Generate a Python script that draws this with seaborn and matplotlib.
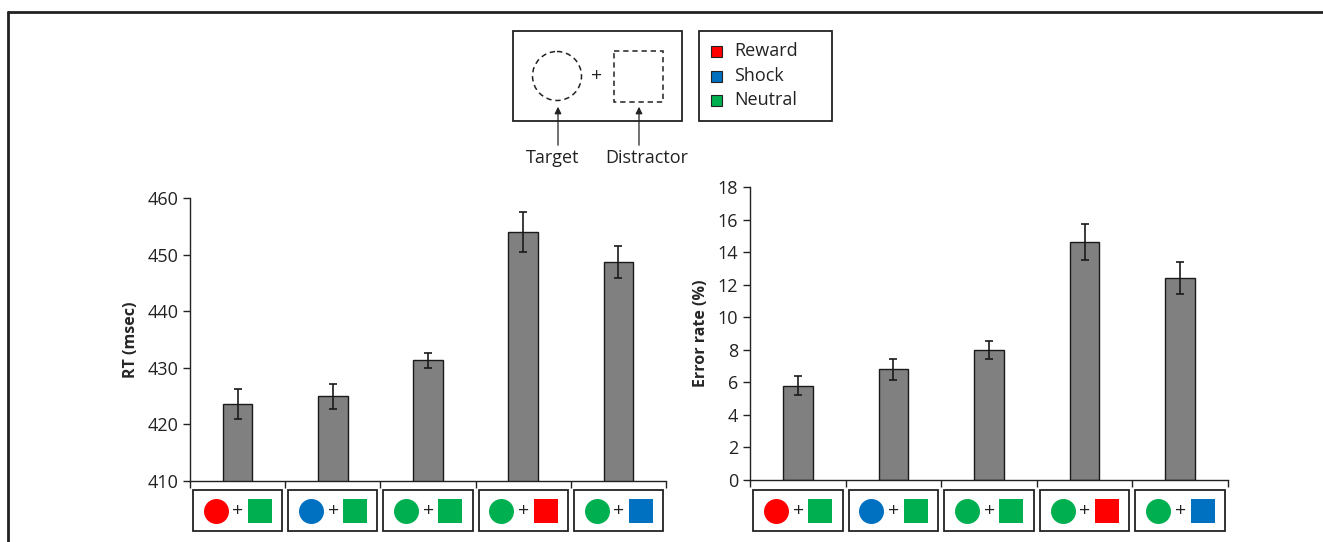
import numpy as np
import pandas as pd
import seaborn as sns
import matplotlib
import matplotlib.pyplot as plt
from matplotlib.patches import Rectangle, Circle, FancyArrowPatch
from matplotlib.transforms import blended_transform_factory

# data
conditions = ["Reward+Neutral", "Shock+Neutral", "Neutral+Neutral", "Neutral+Reward", "Neutral+Shock"]
target_col = ["red", "blue", "green", "green", "green"]
distr_col = ["green", "green", "green", "red", "blue"]
rt_mean = [423.6, 425.0, 431.3, 454.0, 448.7]
rt_sem = [2.6, 2.2, 1.3, 3.6, 2.9]
err_mean = [5.8, 6.8, 8.0, 14.6, 12.4]
err_sem = [0.6, 0.65, 0.55, 1.1, 1.0]

colors = {"red": "#FF0000", "blue": "#0070C0", "green": "#00B050"}

sns.set_theme(style="white")
plt.rcParams['font.family'] = ['Open Sans', 'DejaVu Sans']
plt.rcParams['axes.edgecolor'] = '#222222'

fig = plt.figure(figsize=(13.23, 5.42), dpi=100)
W, H = 1323, 542

# overlay in pixel coordinates (y down)
over = fig.add_axes([0, 0, 1, 1], zorder=-1)
over.set_xlim(0, W)
over.set_ylim(H, 0)
over.axis("off")


def px_axes(x0, y0, x1, y1):
    return fig.add_axes([x0 / W, 1 - y1 / H, (x1 - x0) / W, (y1 - y0) / H])


ax1 = px_axes(190, 198, 666, 481)
ax2 = px_axes(750, 187, 1228, 480)

df = pd.DataFrame({"cond": conditions, "rt": rt_mean, "err": err_mean})


def panel(ax, col, mean, sem, ylim, yticks, ylabel):
    sns.barplot(data=df, x="cond", y=col, ax=ax, color="#808080", saturation=1,
                edgecolor="#1a1a1a", linewidth=1.0, width=0.31, errorbar=None)
    ax.errorbar(np.arange(len(mean)), mean, yerr=sem, fmt="none", ecolor="#1a1a1a",
                elinewidth=1.2, capsize=3, capthick=1.2)
    ax.set_ylim(*ylim)
    ax.set_yticks(yticks)
    ax.set_xlim(-0.5, len(mean) - 0.5)
    ax.set_xticks(np.arange(len(mean) + 1) - 0.5)
    ax.set_xticklabels([])
    ax.set_xlabel("")
    ax.set_ylabel(ylabel, fontsize=11.5, fontweight="bold", labelpad=6)
    ax.tick_params(axis="both", direction="out", length=5, width=1, color="#222222",
                   labelsize=13, bottom=True, left=True, labelcolor="#222222")
    for s in ["top", "right"]:
        ax.spines[s].set_visible(False)
    for s in ["left", "bottom"]:
        ax.spines[s].set_linewidth(1.0)

    # icon boxes under each category
    tr = blended_transform_factory(ax.transData, over.transData)
    for i in range(len(mean)):
        ax.add_patch(Rectangle((i - 0.468, 490), 0.936, 41, transform=tr, fill=False,
                               edgecolor="#222222", linewidth=1.3, clip_on=False))
        ax.plot([i - 0.23], [510.5], marker="o", markersize=18, color=colors[target_col[i]],
                transform=tr, clip_on=False, markeredgewidth=0)
        ax.plot([i + 0.235], [510.5], marker="s", markersize=17.5, color=colors[distr_col[i]],
                transform=tr, clip_on=False, markeredgewidth=0)
        ax.text(i + 0.003, 510.5, "+", transform=tr, ha="center", va="center",
                fontsize=14, color="#222222")


panel(ax1, "rt", rt_mean, rt_sem, (410, 460), np.arange(410, 461, 10), "RT (msec)")
panel(ax2, "err", err_mean, err_sem, (0, 18), np.arange(0, 19, 2), "Error rate (%)")

# outer frame (left and top)
over.plot([8, 8], [H, 12], color="#222222", linewidth=2)
over.plot([8, W], [12, 12], color="#222222", linewidth=2)

# schematic box
over.add_patch(Rectangle((513, 31), 169, 90, fill=False, edgecolor="#222222", linewidth=1.3))
over.add_patch(Circle((557, 76), 24.5, fill=False, edgecolor="#222222", linewidth=1.1,
                      linestyle=(0, (3.5, 2.5))))
over.text(597, 76, "+", ha="center", va="center", fontsize=14, color="#222222")
over.add_patch(Rectangle((614, 51), 49, 51, fill=False, edgecolor="#222222", linewidth=1.1,
                         linestyle=(0, (3.5, 2.5))))
for xa in [558, 639]:
    over.add_patch(FancyArrowPatch((xa, 148), (xa, 104), arrowstyle="-|>", mutation_scale=10,
                                   color="#222222", linewidth=0.9))
over.text(553, 158, "Target", ha="center", va="center", fontsize=13, color="#222222")
over.text(647, 158, "Distractor", ha="center", va="center", fontsize=13, color="#222222")

# legend box
over.add_patch(Rectangle((699, 31), 133, 90, fill=False, edgecolor="#222222", linewidth=1.3))
for yy, name, c in zip([51, 76, 100], ["Reward", "Shock", "Neutral"], ["red", "blue", "green"]):
    over.add_patch(Rectangle((711, yy - 5.5), 11, 11, facecolor=colors[c], edgecolor="#222222",
                             linewidth=0.8))
    over.text(734, yy, name, ha="left", va="center", fontsize=13, color="#222222")

fig.savefig("out.png", dpi=100)
